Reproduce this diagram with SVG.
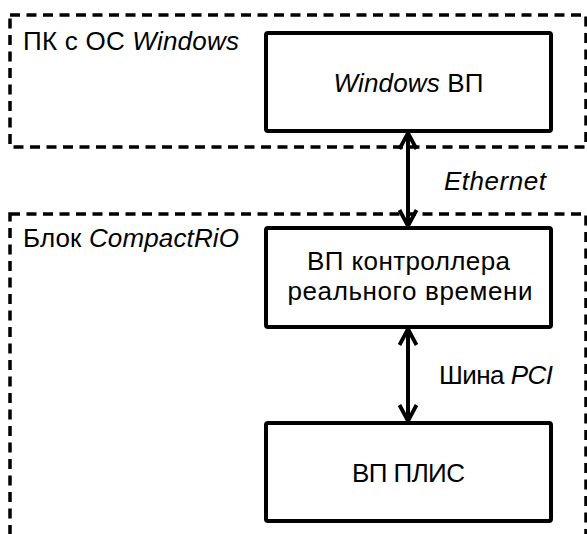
<svg xmlns="http://www.w3.org/2000/svg" width="587" height="534" viewBox="0 0 587 534">
  <defs>
    <style>
      text { font-family: "Liberation Sans", Arial, "DejaVu Sans", sans-serif; font-size: 26px; fill: #000; }
      .it { font-style: italic; }
      .group { fill: none; stroke: #000; stroke-width: 3.5; stroke-dasharray: 10 6.5; }
      .node { fill: #fff; stroke: #000; stroke-width: 4; }
      .conn { fill: none; stroke: #000; stroke-width: 4; }
    </style>
    <marker id="arr" viewBox="0 0 22 22" refX="19" refY="11" markerWidth="22" markerHeight="22" markerUnits="userSpaceOnUse" orient="auto-start-reverse">
      <path d="M3,2.5 L19,11 L3,19.5" fill="none" stroke="#000" stroke-width="3.8" stroke-linejoin="miter"/>
    </marker>
  </defs>
  <rect width="587" height="534" fill="#fff"/>

  <g id="pc-group">
    <rect class="group" x="10" y="15" width="576" height="132"/>
    <text x="23" y="50" textLength="216">ПК с ОС <tspan class="it">Windows</tspan></text>
  </g>

  <g id="crio-group">
    <rect class="group" x="10" y="214" width="576" height="360"/>
    <text x="23" y="247" textLength="216">Блок <tspan class="it">CompactRiO</tspan></text>
  </g>

  <g id="windows-vi">
    <rect class="node" x="266" y="33" width="285" height="98" rx="2"/>
    <text x="408.5" y="92" text-anchor="middle" textLength="150"><tspan class="it">Windows</tspan> ВП</text>
  </g>

  <g id="rt-vi">
    <rect class="node" x="266" y="228" width="285" height="99" rx="2"/>
    <text x="408.5" y="270" text-anchor="middle" textLength="203">ВП контроллера</text>
    <text x="410" y="300" text-anchor="middle" textLength="245">реального времени</text>
  </g>

  <g id="fpga-vi">
    <rect class="node" x="266" y="423" width="285" height="98" rx="2"/>
    <text x="408.5" y="482" text-anchor="middle" textLength="113">ВП ПЛИС</text>
  </g>

  <g id="connectors">
    <line class="conn" x1="408" y1="133" x2="408" y2="226" marker-start="url(#arr)" marker-end="url(#arr)"/>
    <text class="it" x="444" y="190" textLength="102">Ethernet</text>
    <line class="conn" x1="408" y1="329" x2="408" y2="421" marker-start="url(#arr)" marker-end="url(#arr)"/>
    <text x="439" y="384" textLength="114">Шина <tspan class="it">PCI</tspan></text>
  </g>
</svg>
